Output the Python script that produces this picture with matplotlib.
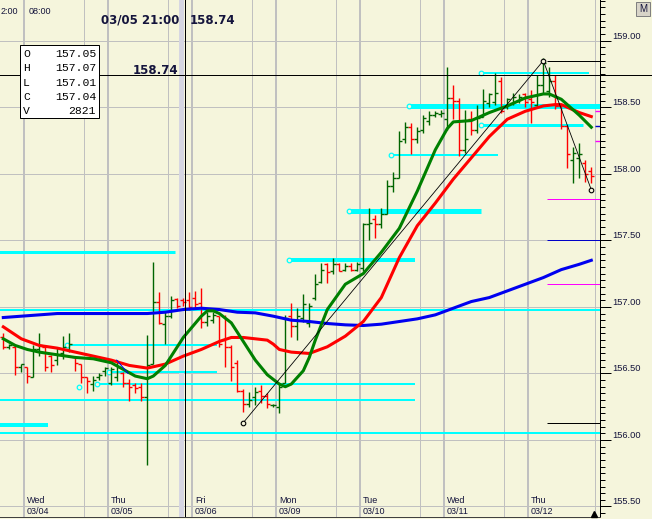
import numpy as np
import matplotlib.pyplot as plt
from matplotlib.patches import Rectangle
from matplotlib.ticker import MultipleLocator, FormatStrFormatter
from matplotlib.transforms import blended_transform_factory

plt.rcParams['font.family'] = ['Liberation Sans', 'DejaVu Sans']
plt.rcParams['ytick.alignment'] = 'bottom'

# ---- OHLC bars ----
opens = [156.77, 156.70, 156.70, 156.55, 156.55, 156.47, 156.68, 156.70, 156.63, 156.60,
         156.65, 156.68, 156.62, 156.57, 156.47, 156.42, 156.47, 156.52, 156.43, 156.47,
         156.50, 156.43, 156.41, 156.40, 156.32, 156.57, 157.04, 156.87, 156.93, 157.06,
         157.05, 157.05, 157.07, 157.03, 156.89, 156.90, 156.93, 156.75, 156.70, 156.58,
         156.37, 156.27, 156.32, 156.37, 156.33, 156.26, 156.25, 156.43, 156.93, 156.86,
         156.92, 156.88, 157.07, 157.19, 157.32, 157.27, 157.32, 157.28, 157.31, 157.28,
         157.29, 157.62, 157.66, 157.62, 157.70, 157.91, 157.97, 158.26, 158.35, 158.26,
         158.33, 158.40, 158.44, 158.45, 158.41, 158.57, 158.55, 158.18, 158.41, 158.33,
         158.43, 158.53, 158.54, 158.70, 158.50, 158.53, 158.55, 158.60, 158.56, 158.52,
         158.67, 158.62, 158.70, 158.51, 158.36, 158.10, 158.12, 158.08, 158.02]
highs = [156.80, 156.72, 156.71, 156.57, 156.55, 156.71, 156.80, 156.71, 156.64, 156.69,
         156.78, 156.80, 156.63, 156.57, 156.47, 156.48, 156.50, 156.55, 156.55, 156.60,
         156.51, 156.46, 156.43, 156.43, 156.79, 157.34, 157.11, 156.97, 157.08, 157.07,
         157.07, 157.11, 157.12, 157.14, 156.96, 156.96, 156.93, 156.94, 156.71, 156.60,
         156.38, 156.36, 156.40, 156.41, 156.35, 156.27, 156.43, 156.94, 157.03, 156.99,
         157.10, 157.03, 157.25, 157.33, 157.33, 157.37, 157.33, 157.33, 157.33, 157.34,
         157.63, 157.74, 157.69, 157.74, 157.95, 158.01, 158.32, 158.39, 158.38, 158.35,
         158.44, 158.47, 158.47, 158.48, 158.80, 158.67, 158.57, 158.48, 158.47, 158.52,
         158.64, 158.61, 158.76, 158.73, 158.57, 158.61, 158.60, 158.61, 158.63, 158.74,
         158.87, 158.80, 158.74, 158.52, 158.37, 158.20, 158.23, 158.10, 158.05]
lows = [156.68, 156.68, 156.49, 156.51, 156.43, 156.47, 156.63, 156.52, 156.51, 156.56,
        156.61, 156.66, 156.52, 156.43, 156.35, 156.37, 156.45, 156.48, 156.41, 156.44,
        156.40, 156.29, 156.35, 156.29, 155.81, 156.57, 156.87, 156.72, 156.92, 156.99,
        157.01, 156.98, 156.99, 156.84, 156.86, 156.88, 156.70, 156.55, 156.44, 156.36,
        156.21, 156.25, 156.26, 156.28, 156.24, 156.25, 156.20, 156.43, 156.77, 156.75,
        156.89, 156.85, 157.05, 157.18, 157.18, 157.25, 157.27, 157.27, 157.27, 157.27,
        157.27, 157.50, 157.52, 157.59, 157.70, 157.86, 157.97, 158.23, 158.15, 158.23,
        158.31, 158.37, 158.43, 158.43, 158.33, 158.41, 158.13, 158.16, 158.29, 158.31,
        158.43, 158.50, 158.52, 158.46, 158.49, 158.52, 158.53, 158.50, 158.38, 158.50,
        158.61, 158.58, 158.49, 158.34, 158.04, 157.93, 157.97, 157.94, 157.93]
closes = [156.70, 156.71, 156.55, 156.57, 156.48, 156.68, 156.71, 156.55, 156.56, 156.64,
          156.70, 156.72, 156.58, 156.47, 156.44, 156.45, 156.49, 156.54, 156.53, 156.55,
          156.43, 156.40, 156.39, 156.32, 156.56, 157.04, 156.88, 156.93, 157.05, 157.01,
          157.04, 157.00, 157.02, 156.89, 156.93, 156.94, 156.72, 156.70, 156.55, 156.37,
          156.27, 156.30, 156.36, 156.33, 156.27, 156.26, 156.40, 156.92, 156.86, 156.93,
          157.02, 157.01, 157.17, 157.28, 157.26, 157.32, 157.27, 157.31, 157.28, 157.32,
          157.62, 157.63, 157.62, 157.70, 157.91, 157.97, 158.25, 158.35, 158.26, 158.32,
          158.42, 158.44, 158.46, 158.46, 158.57, 158.55, 158.18, 158.26, 158.33, 158.42,
          158.55, 158.60, 158.61, 158.47, 158.56, 158.58, 158.58, 158.54, 158.54, 158.67,
          158.83, 158.70, 158.51, 158.36, 158.15, 158.16, 158.15, 158.00, 157.98]

# ---- moving averages ----
fast_idx = [0, 2, 4, 6, 9, 12, 15, 18, 20, 22, 23, 24, 25, 27, 30, 33, 34, 35, 36, 38,
            40, 42, 44, 46, 47, 48, 50, 51, 52, 54, 57, 60, 63, 66, 69, 72, 74, 75, 78,
            81, 84, 87, 89, 90, 91, 93, 96, 98]
ma_fast = [156.76, 156.71, 156.68, 156.66, 156.64, 156.62, 156.61, 156.58, 156.53, 156.48,
           156.47, 156.46, 156.48, 156.56, 156.77, 156.93, 156.97, 156.97, 156.95, 156.88,
           156.74, 156.60, 156.49, 156.42, 156.40, 156.42, 156.52, 156.62, 156.75, 156.98,
           157.17, 157.25, 157.41, 157.59, 157.87, 158.18, 158.34, 158.39, 158.40, 158.46,
           158.51, 158.57, 158.59, 158.60, 158.60, 158.56, 158.44, 158.35]
mid_idx = [0, 3, 6, 9, 12, 15, 18, 21, 24, 27, 30, 33, 36, 38, 40, 42, 44, 45, 46, 48,
           51, 54, 57, 60, 63, 66, 69, 72, 75, 78, 81, 84, 87, 90, 92, 93, 96, 98]
ma_mid = [156.85, 156.76, 156.71, 156.69, 156.66, 156.63, 156.60, 156.56, 156.54, 156.57,
          156.63, 156.68, 156.74, 156.77, 156.77, 156.76, 156.75, 156.72, 156.68, 156.66,
          156.65, 156.70, 156.78, 156.89, 157.07, 157.37, 157.61, 157.78, 157.96, 158.12,
          158.28, 158.41, 158.47, 158.51, 158.52, 158.52, 158.46, 158.43]
slow_idx = [0, 3, 6, 9, 12, 15, 18, 21, 24, 27, 30, 33, 36, 39, 42, 45, 48,
            51, 54, 57, 60, 63, 66, 69, 72, 75, 78, 81, 84, 87, 90, 93, 96, 98]
ma_slow = [156.92, 156.93, 156.94, 156.95, 156.95, 156.95, 156.95, 156.95, 156.95, 156.96,
           156.98, 156.99, 156.98, 156.96, 156.955, 156.93, 156.90, 156.89, 156.875, 156.865,
           156.86, 156.87, 156.89, 156.91, 156.94, 156.99, 157.04, 157.07, 157.12, 157.17,
           157.22, 157.28, 157.32, 157.35]

# ---- cyan support / resistance levels ----
cyan_price = [157.41, 156.98, 156.71, 156.51, 156.42, 156.30, 156.11, 156.05,
              157.35, 157.72, 158.14, 158.51, 158.37, 158.76]
cyan_from = [-1, -1, 10, 17, 15, -1, -1, -1, 47, 57, 64, 67, 79, 79]
cyan_to = [28.6, 100, 35.6, 35.6, 68.6, 68.6, 7.45, 100, 68.6, 79.6, 82.5, 100, 96.6, 97.6]
cyan_px = [3, 2, 2, 2, 2, 2, 4, 2, 4, 5, 2, 5, 3, 2]
cyan_lone_bar = 12
cyan_lone_price = 156.40

# zigzag
zz_idx = [40, 90, 98]
zz_price = [156.13, 158.85, 157.88]

# small blue segment
seg_idx = [18.9, 20.8]
seg_price = [156.60, 156.50]

# level lines at the right edge
side_price = [158.85, 157.81, 157.50, 157.17, 156.13]
side_color = ['black', '#ff00ff', '#0000c8', '#ff00ff', 'black']
mark_price = [158.47, 158.36, 158.25]
mark_color = ['#ff00ff', '#0000c8', '#ff00ff']

# selection / crosshair
sel = 30
sel_time = '03/05 21:00'
sel_volume = 2821
cross_price = 158.74

day_names = ['Wed', 'Thu', 'Fri', 'Mon', 'Tue', 'Wed', 'Thu']
day_dates = ['03/04', '03/05', '03/06', '03/09', '03/10', '03/11', '03/12']
day_start = [3.45, 17.45, 31.45, 45.45, 59.45, 73.45, 87.45]
half_lines = [13.45, 27.45, 41.45, 55.45, 69.45, 83.45, 98.6]

bg = '#f5f5dc'
grid = '#c0c0c0'
navy = '#14143c'
cyan = '#00ffff'
px = 0.72

fig = plt.figure(figsize=(6.52, 5.19), dpi=100, facecolor=bg)
ax = fig.add_axes([0, 2 / 519, 600 / 652, 517 / 519], facecolor=bg)
x0, x1 = -0.55, 99.45
ax.set_xlim(x0, x1)
ax.set_ylim(155.421, 159.306)

# grid
for p in np.arange(155.5, 159.01, 0.5):
    ax.axhline(p, color=grid, lw=px, zorder=0.5)
for d in day_start:
    ax.axvline(d, color=grid, lw=2 * px, zorder=0.5)
for d in half_lines:
    ax.axvline(d, color=grid, lw=px, zorder=0.5)

# selected bar highlight
ax.axvspan(sel - 0.75, sel + 0.15, color='#d6d6e2', lw=0, zorder=0.6)

# cyan levels
for p, a, b, w in zip(cyan_price, cyan_from, cyan_to, cyan_px):
    ax.hlines(p, a + 0.6 if a >= 0 else x0 - 1, b, color=cyan, lw=w * px, zorder=1.5)
    if a >= 0:
        ax.plot(a + 0.6, p, 'o', ms=3.3, mfc=bg, mec=cyan, mew=0.9, zorder=1.6)
ax.plot(cyan_lone_bar + 0.6, cyan_lone_price, 'o', ms=3.3, mfc=bg, mec=cyan, mew=0.9, zorder=1.6)

# bars
xb = np.arange(len(closes))
cols = np.where(np.array(closes) >= np.array(opens), '#006400', '#ff0000')
ax.vlines(xb, lows, highs, colors=cols, lw=1.0, zorder=2)
ax.hlines(opens, xb - 0.48, xb, colors=cols, lw=1.0, zorder=2)
ax.hlines(closes, xb, xb + 0.48, colors=cols, lw=1.0, zorder=2)

# moving averages
ax.plot(slow_idx, ma_slow, color='#0000f0', lw=2.2, zorder=3)
ax.plot(mid_idx, ma_mid, color='#ff0000', lw=2.2, zorder=3)
ax.plot(fast_idx, ma_fast, color='#008000', lw=2.2, zorder=3)
ax.plot(seg_idx, seg_price, color='#0000f0', lw=px, zorder=3)

# zigzag
ax.plot(zz_idx, zz_price, color='black', lw=0.6, zorder=4)
ax.plot(zz_idx, zz_price, 'o', ms=3.3, mfc=bg, mec='black', mew=0.8, zorder=4)

# right edge levels
for p, c in zip(side_price, side_color):
    ax.hlines(p, zz_idx[1] + 0.6, x1, color=c, lw=px, zorder=4)
for p, c in zip(mark_price, mark_color):
    ax.hlines(p, x1 - 0.85, x1, color=c, lw=1.4 * px, zorder=4)

# crosshair
ax.axvline(sel + 0.3, color='black', lw=px, zorder=5)
ax.axhline(cross_price, xmin=0, xmax=652 / 600, color='black', lw=px, zorder=5, clip_on=False)

# axes styling
for s in ['left', 'top']:
    ax.spines[s].set_visible(False)
ax.spines['right'].set_color('black')
ax.spines['right'].set_linewidth(px)
ax.spines['bottom'].set_color('#404040')
ax.spines['bottom'].set_linewidth(px)
ax.set_xticks([])
ax.yaxis.tick_right()
ax.set_yticks(np.arange(155.5, 159.01, 0.5))
ax.yaxis.set_major_formatter(FormatStrFormatter('%.2f'))
ax.yaxis.set_minor_locator(MultipleLocator(0.05))
ax.tick_params(axis='y', which='major', length=7.9, width=px, pad=0.6,
               labelsize=6.7, labelcolor=navy, color='black')
ax.tick_params(axis='y', which='minor', length=3.6, width=px, color='black')

# day labels
tr = blended_transform_factory(ax.transData, ax.transAxes)
for d, nme, dt in zip(day_start, day_names, day_dates):
    ax.text(d + 0.5, 0.0315, nme, transform=tr, fontsize=6.5, color=navy, va='center', ha='left')
    ax.text(d + 0.5, 0.0097, dt, transform=tr, fontsize=6.5, color=navy, va='center', ha='left')
fig.text(0.5 / 652, 1 - 11 / 519, '2:00', fontsize=6.5, color=navy, va='center', ha='left')
ax.text(day_start[0] + 0.7, 0.9787, '08:00', transform=tr, fontsize=6.5, color=navy, va='center', ha='left')
ax.plot(98.45, 0.006, '^', color='black', ms=4, transform=tr, clip_on=False, zorder=6)

# header text
fig.text(101 / 652, 1 - 20 / 519, sel_time, family='DejaVu Sans', weight='bold',
         fontsize=8.5, color=navy, va='center')
fig.text(190 / 652, 1 - 20 / 519, f'{cross_price:.2f}', family='DejaVu Sans', weight='bold',
         fontsize=8.5, color=navy, va='center')
fig.text(133 / 652, 1 - 70 / 519, f'{cross_price:.2f}', family='DejaVu Sans', weight='bold',
         fontsize=8.5, color=navy, va='center')

# OHLC box
fig.add_artist(Rectangle((20 / 652, 1 - 118 / 519), 79 / 652, 73 / 519, transform=fig.transFigure,
                         fc='white', ec='black', lw=px))
box_labels = ['O', 'H', 'L', 'C', 'V']
box_values = [f'{opens[sel]:.2f}', f'{highs[sel]:.2f}', f'{lows[sel]:.2f}',
              f'{closes[sel]:.2f}', f'{sel_volume}']
for k, (lab, val) in enumerate(zip(box_labels, box_values)):
    yy = 1 - (54 + 14.3 * k) / 519
    fig.text(23 / 652, yy, lab, family='Liberation Mono', fontsize=8.2, color='#000000', va='center')
    fig.text(96 / 652, yy, val, family='Liberation Mono', fontsize=8.2, color='#000000',
             va='center', ha='right')

# M button
fig.add_artist(Rectangle((636 / 652, 1 - 16 / 519), 14 / 652, 14 / 519, transform=fig.transFigure,
                         fc='#d8d4c8', ec='#808080', lw=px))
fig.text(643 / 652, 1 - 9 / 519, 'M', fontsize=7, color=navy, ha='center', va='center')

fig.savefig('out.png', dpi=100, facecolor=bg)
